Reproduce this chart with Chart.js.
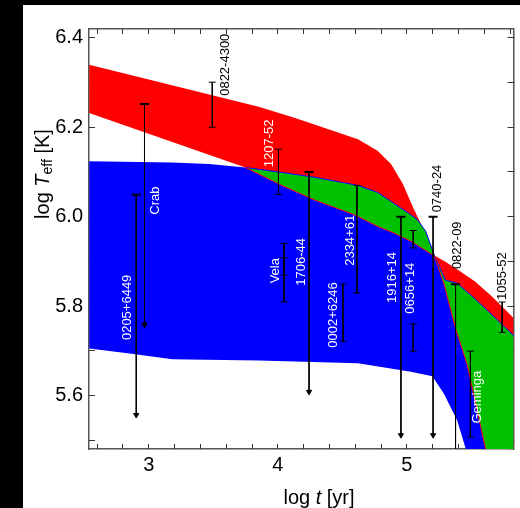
<!DOCTYPE html>
<html>
<head>
<meta charset="utf-8">
<title>Neutron star cooling</title>
<script src="https://cdn.jsdelivr.net/npm/chart.js@4.4.0/dist/chart.umd.min.js"></script>
<style>
  body { margin: 0; background: #000; width: 520px; height: 508px; overflow: hidden; }
  #wrap { position: absolute; left: 23px; top: 5px; width: 497px; height: 503px; background: #fff; }
</style>
</head>
<body>
<div id="wrap"><canvas id="chart" width="497" height="503"></canvas></div>
<script>
// cooling bands, points are [log t, log Teff]
const greenUpper = [[3.749, 6.110], [4.031, 6.099], [4.288, 6.088], [4.621, 6.070], [4.775, 6.054], [4.903, 6.029], [5.031, 6.004], [5.082, 5.993], [5.146, 5.967], [5.213, 5.913], [5.298, 5.858], [5.388, 5.851], [5.528, 5.816], [5.675, 5.776], [5.830, 5.733]];
const greenLower = [[3.749, 6.110], [4.031, 6.070], [4.288, 6.037], [4.595, 6.004], [4.775, 5.978], [4.903, 5.963], [5.031, 5.945], [5.213, 5.912], [5.288, 5.849], [5.377, 5.750], [5.467, 5.669], [5.608, 5.482], [5.852, 5.236]];
const redUpper = [[2.538, 6.340], [3.852, 6.246], [4.134, 6.221], [4.621, 6.173], [4.775, 6.147], [4.877, 6.118], [4.967, 6.074], [5.057, 6.015], [5.144, 5.963], [5.213, 5.913], [5.298, 5.899], [5.400, 5.880], [5.528, 5.855], [5.657, 5.822], [5.830, 5.772]];
const redLower = [[2.538, 6.232]].concat(greenUpper);
const blueUpper = [[2.538, 6.124], [3.182, 6.121], [3.467, 6.118]].concat(greenLower);
const blueLower = [[2.538, 5.705], [2.852, 5.694], [3.182, 5.681], [3.852, 5.678], [4.621, 5.672], [5.031, 5.653], [5.198, 5.643], [5.288, 5.603], [5.390, 5.544], [5.454, 5.482], [5.852, 5.092]];

// observed pulsars: error bars and upper limits
const barLogT    = [3.492, 2.967, 2.903, 4.005, 4.049, 4.049, 4.242, 4.505, 4.613, 4.954, 5.049, 5.049, 5.203, 5.377, 5.492, 5.738];
const barHigh    = [6.301, 6.252, 6.049, 6.151, 5.940, 5.908, 6.100, 5.849, 6.070, 6.000, 5.969, 5.760, 6.000, 5.849, 5.699, 5.809];
const barLow     = [6.200, 5.758, 5.556, 6.050, 5.869, 5.809, 5.608, 5.721, 5.829, 5.511, 5.930, 5.699, 5.511, 5.400, 5.507, 5.741];
const barIsLimit = [false, true, true, false, false, false, true, false, false, true, false, false, true, true, false, false];

const labelNames  = ['0822-4300', 'Crab', '0205+6449', '1207-52', 'Vela', '1706-44', '0002+6246', '2334+61', '1916+14', '0656+14', '0740-24', '0822-09', '1055-52', 'Geminga'];
const labelLogT   = [3.595, 3.052, 2.834, 3.934, 3.985, 4.185, 4.428, 4.559, 4.890, 5.028, 5.236, 5.392, 5.738, 5.544];
const labelLogTef = [6.340, 6.036, 5.797, 6.164, 5.879, 5.899, 5.780, 5.947, 5.864, 5.840, 6.063, 5.936, 5.867, 5.596];
const labelOnBand = [false, true, true, true, true, true, true, true, true, true, false, false, false, true];

const RED = '#ff0000';
const GREEN = '#00c000';
const BLUE = '#0000ff';
const FONT = '"Liberation Sans", Arial, sans-serif';

function pts(list) {
  return list.map(p => ({ x: p[0], y: p[1] }));
}

function band(list, color, extra) {
  return Object.assign({
    data: pts(list),
    fill: false,
    borderWidth: 0,
    pointRadius: 0,
    backgroundColor: color,
    tension: 0
  }, extra);
}

const datasets = [
  band(blueUpper, BLUE, { fill: '+1', order: 2 }),
  band(blueLower, BLUE, { order: 2 }),
  band(greenUpper, GREEN, { fill: '+1', order: 3, borderColor: BLUE, borderWidth: 1 }),
  band(greenLower, GREEN, { order: 1, borderColor: RED, borderWidth: 1 }),
  band(redUpper, RED, { fill: '+1', order: 4 }),
  band(redLower, RED, { order: 4 })
];

barLogT.forEach((t, i) => {
  const lim = barIsLimit[i];
  datasets.push({
    data: [{ x: t, y: barHigh[i] }, { x: t, y: barLow[i] }],
    borderColor: '#000',
    borderWidth: 1,
    fill: false,
    pointStyle: ['line', lim ? 'triangle' : 'line'],
    pointRadius: lim ? [4.5, 3] : [3.5, 3.5],
    pointBorderWidth: lim ? [2, 1] : [1, 1],
    pointRotation: [0, lim ? 180 : 0],
    pointBorderColor: '#000',
    pointBackgroundColor: '#000',
    order: 0
  });
});

// draw a row of text pieces with different fonts, centred on x
function drawRuns(ctx, runs, x, y) {
  let total = 0;
  runs.forEach(r => { ctx.font = r.font; total += ctx.measureText(r.text).width; });
  let cx = x - total / 2;
  runs.forEach(r => {
    ctx.font = r.font;
    ctx.fillText(r.text, cx, y + (r.dy || 0));
    cx += ctx.measureText(r.text).width;
  });
}

const textPlugin = {
  id: 'pulsarText',
  afterDatasetsDraw(chart) {
    const { ctx } = chart;
    const xs = chart.scales.x, ys = chart.scales.y;
    ctx.save();
    ctx.font = '13px ' + FONT;
    ctx.textAlign = 'center';
    ctx.textBaseline = 'middle';
    labelNames.forEach((name, i) => {
      ctx.save();
      ctx.translate(xs.getPixelForValue(labelLogT[i]), ys.getPixelForValue(labelLogTef[i]));
      ctx.rotate(-Math.PI / 2);
      ctx.fillStyle = labelOnBand[i] ? '#fff' : '#000';
      ctx.fillText(name, 0, 0);
      ctx.restore();
    });
    ctx.restore();
  },
  afterDraw(chart) {
    const { ctx } = chart;
    ctx.save();
    ctx.fillStyle = '#000';
    ctx.textAlign = 'left';
    ctx.textBaseline = 'alphabetic';
    drawRuns(ctx, [
      { text: 'log ', font: '20px ' + FONT },
      { text: 't', font: 'italic 20px ' + FONT },
      { text: ' [yr]', font: '20px ' + FONT }
    ], 296, 498.5);
    ctx.translate(25.5, 169);
    ctx.rotate(-Math.PI / 2);
    drawRuns(ctx, [
      { text: 'log ', font: '20px ' + FONT },
      { text: 'T', font: 'italic 20px ' + FONT },
      { text: 'eff', font: '14px ' + FONT, dy: 3 },
      { text: ' [K]', font: '20px ' + FONT }
    ], 0, 0);
    ctx.restore();
  }
};

const axisColor = '#555';
const tickColor = '#333';

function axis(position, extra) {
  return Object.assign({
    type: 'linear',
    position,
    z: 1,
    border: { color: axisColor, width: 1.5 },
    grid: { drawOnChartArea: false, color: tickColor, lineWidth: 1 }
  }, extra);
}

const xTicks = {
  stepSize: 0.2,
  includeBounds: false,
  autoSkip: false,
  maxRotation: 0,
  minRotation: 0
};
const yTicks = {
  stepSize: 0.1,
  includeBounds: false,
  autoSkip: false
};

new Chart(document.getElementById('chart'), {
  type: 'line',
  data: { datasets },
  options: {
    responsive: false,
    animation: false,
    events: [],
    layout: { padding: { top: 18, right: 0, bottom: 0, left: 0 } },
    plugins: { legend: { display: false }, tooltip: { enabled: false } },
    scales: {
      x: axis('bottom', {
        min: 2.537, max: 5.826,
        afterFit: s => { s.height = 59; },
        grid: { drawOnChartArea: false, color: tickColor, lineWidth: 1, tickLength: -5 },
        ticks: Object.assign({}, xTicks, {
          padding: 9,
          color: '#000',
          font: { size: 20, family: FONT },
          callback: v => Math.abs(v - Math.round(v)) < 1e-6 ? String(Math.round(v)) : ''
        })
      }),
      x2: axis('top', {
        min: 2.537, max: 5.826,
        afterFit: s => { s.height = 0; },
        grid: { drawOnChartArea: false, color: tickColor, lineWidth: 1, tickLength: -5 },
        ticks: Object.assign({}, xTicks, { display: false })
      }),
      y: axis('left', {
        min: 5.48, max: 6.42,
        afterFit: s => { s.width = 66; },
        grid: { drawOnChartArea: false, color: tickColor, lineWidth: 1, tickLength: -6 },
        ticks: Object.assign({}, yTicks, {
          padding: 12,
          color: '#000',
          font: { size: 20, family: FONT },
          callback: v => {
            const k = Math.round(v * 10);
            return k % 2 === 0 ? (k / 10).toFixed(1) : '';
          }
        })
      }),
      y2: axis('right', {
        min: 5.48, max: 6.42,
        afterFit: s => { s.width = 3; },
        grid: { drawOnChartArea: false, color: tickColor, lineWidth: 1, tickLength: -6 },
        ticks: Object.assign({}, yTicks, { display: false })
      })
    }
  },
  plugins: [textPlugin]
});
</script>
</body>
</html>
